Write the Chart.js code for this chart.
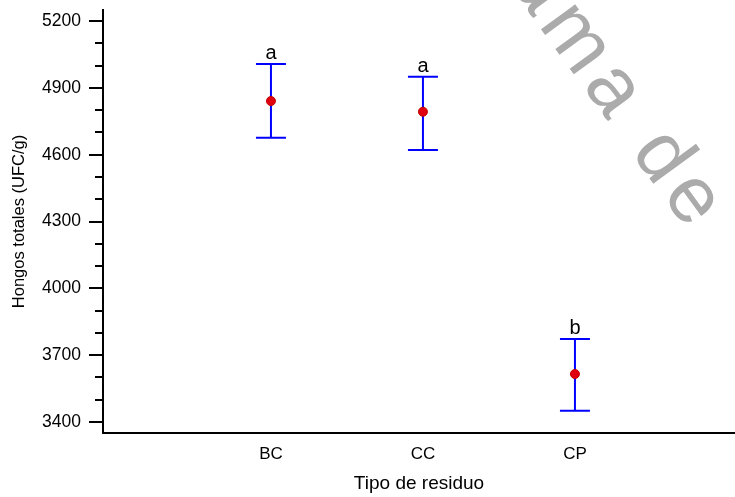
<!DOCTYPE html>
<html>
<head>
<meta charset="utf-8">
<script src="https://cdn.jsdelivr.net/npm/chart.js@4"></script>
<style>
  body { margin: 0; background: #fff; }
  #wrap { width: 735px; height: 497px; position: relative; }
</style>
</head>
<body>
<div id="wrap"><canvas id="canvas"></canvas></div>
<script>
// values
var categories = ['BC', 'CC', 'CP'];
var means = [4841, 4793, 3615];
var upper = [5007, 4950, 3772];
var lower = [4676, 4621, 3450];
var letters = ['a', 'a', 'b'];
var yTicks = [3400, 3700, 4000, 4300, 4600, 4900, 5200];

var points = means.map(function (v, i) {
    return { x: i + 1, y: v };
});

// error bars + letters
var errorBars = {
    id: 'errorBars',
    beforeDatasetsDraw: function (chart) {
        var ctx = chart.ctx;
        var xs = chart.scales.x, ys = chart.scales.y;
        ctx.save();
        ctx.strokeStyle = '#0000ff';
        ctx.lineWidth = 2;
        for (var i = 0; i < means.length; i++) {
            var px = xs.getPixelForValue(i + 1);
            var top = ys.getPixelForValue(upper[i]);
            var bot = ys.getPixelForValue(lower[i]);
            ctx.beginPath();
            ctx.moveTo(px, top); ctx.lineTo(px, bot);
            ctx.moveTo(px - 15, top); ctx.lineTo(px + 15, top);
            ctx.moveTo(px - 15, bot); ctx.lineTo(px + 15, bot);
            ctx.stroke();
            ctx.fillStyle = '#000';
            ctx.font = '20px "Liberation Sans", Arial, sans-serif';
            ctx.textAlign = 'center';
            ctx.textBaseline = 'alphabetic';
            ctx.fillText(letters[i], px, top - 5);
        }
        ctx.restore();
    }
};

// y tick marks, major and minor
var yTickMarks = {
    id: 'yTickMarks',
    afterDraw: function (chart) {
        var ctx = chart.ctx;
        var ys = chart.scales.y;
        var left = chart.chartArea.left;
        ctx.save();
        ctx.strokeStyle = '#000';
        ctx.lineWidth = 2;
        ctx.beginPath();
        yTicks.forEach(function (v, k) {
            var py = Math.round(ys.getPixelForValue(v));
            ctx.moveTo(left - 14, py); ctx.lineTo(left, py);
            if (k < yTicks.length - 1) {
                for (var m = 1; m < 3; m++) {
                    var my = Math.round(ys.getPixelForValue(v + m * 100));
                    ctx.moveTo(left - 8, my); ctx.lineTo(left, my);
                }
            }
        });
        ctx.stroke();
        ctx.restore();
    }
};

// watermark in the background
var watermark = {
    id: 'watermark',
    beforeDraw: function (chart) {
        var ctx = chart.ctx;
        ctx.save();
        ctx.translate(692, 237);
        ctx.rotate(54 * Math.PI / 180);
        ctx.fillStyle = '#ababab';
        ctx.font = '80px "Liberation Sans", Arial, sans-serif';
        ctx.letterSpacing = '8px';
        ctx.textAlign = 'right';
        ctx.textBaseline = 'alphabetic';
        ctx.fillText('Programa de', 0, 0);
        ctx.restore();
    }
};

Chart.defaults.font.family = '"Liberation Sans", Arial, sans-serif';
Chart.defaults.color = '#000';

new Chart(document.getElementById('canvas'), {
    type: 'scatter',
    data: {
        datasets: [{
            data: points,
            pointRadius: 4.5,
            pointBackgroundColor: '#e00010',
            pointBorderColor: '#c00000',
            pointBorderWidth: 1
        }]
    },
    options: {
        responsive: true,
        maintainAspectRatio: false,
        animation: false,
        layout: { autoPadding: false, padding: { top: 10, right: 0, left: 0, bottom: 0 } },
        plugins: { legend: { display: false }, tooltip: { enabled: false } },
        scales: {
            x: {
                type: 'linear',
                min: -0.105,
                max: 4.053,
                afterBuildTicks: function (scale) {
                    scale.ticks = categories.map(function (c, i) { return { value: i + 1 }; });
                },
                afterFit: function (scale) {
                    scale.height = 64;
                    scale.paddingLeft = 0;
                    scale.paddingRight = 0;
                },
                ticks: {
                    autoSkip: false,
                    maxRotation: 0,
                    padding: 3,
                    font: { size: 17 },
                    callback: function (v) { return categories[v - 1]; }
                },
                grid: { display: false },
                border: { display: true, color: '#000', width: 2 },
                title: {
                    display: true,
                    text: 'Tipo de residuo',
                    font: { size: 19 },
                    padding: { top: 0, bottom: 2 }
                }
            },
            y: {
                min: 3350,
                max: 5250,
                afterBuildTicks: function (scale) {
                    scale.ticks = yTicks.map(function (v) { return { value: v }; });
                },
                afterFit: function (scale) {
                    scale.width = 103;
                    scale.paddingTop = 0;
                    scale.paddingBottom = 0;
                },
                ticks: {
                    padding: 14,
                    font: { size: 17.5 },
                    callback: function (v) { return String(v); }
                },
                grid: { display: false },
                border: { display: true, color: '#000', width: 2 },
                title: {
                    display: true,
                    text: 'Hongos totales (UFC/g)',
                    font: { size: 16.5 },
                    padding: { top: 10, bottom: 0 }
                }
            }
        }
    },
    plugins: [watermark, errorBars, yTickMarks]
});
</script>
</body>
</html>
